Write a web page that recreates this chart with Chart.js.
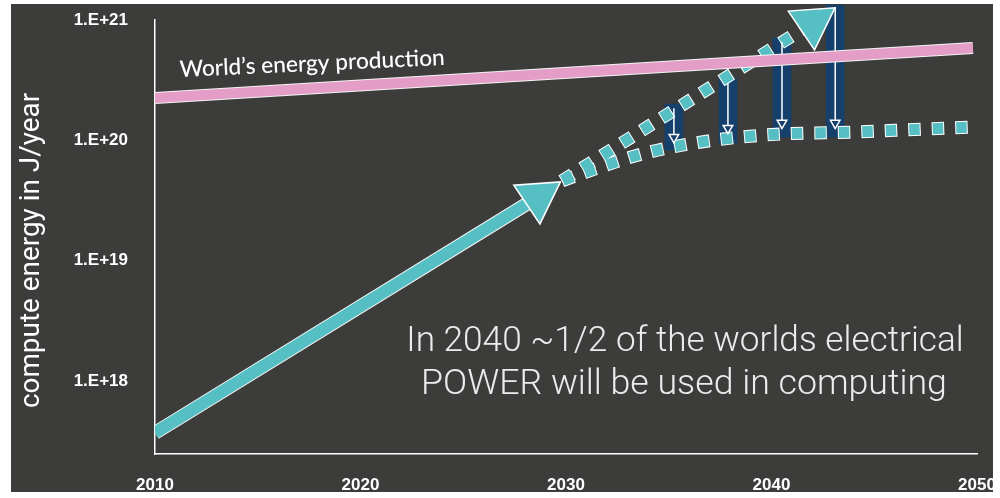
<!DOCTYPE html>
<html>
<head>
<meta charset="utf-8">
<script src="https://cdn.jsdelivr.net/npm/chart.js@4.4.0/dist/chart.umd.min.js"></script>
<style>
    html, body { margin: 0; padding: 0; background: #ffffff; }
    #wrap { width: 1000px; height: 498px; }
</style>
</head>
<body>
<div id="wrap"><canvas id="energyChart" width="1000" height="498"></canvas></div>
<script>
// axis ticks
const yearTicks = [2010, 2020, 2030, 2040, 2050];
const energyTicks = [1e18, 1e19, 1e20, 1e21];
const energyTickLabels = ['1.E+18', '1.E+19', '1.E+20', '1.E+21'];

// world energy production (J/year)
const worldYears = [2010, 2049.8];
const worldEnergy = [2.25e20, 5.85e20];

// compute energy trend so far
const trendYears = [2010, 2028.64];
const trendEnergy = [3.7e17, 3.38e19];

// continued exponential growth
const expYears = [2029.8, 2042.0];
const expEnergy = [4.6e19, 9.45e20];

// flattening growth
const flatYears = [2029.8, 2031.56, 2033.7, 2035.94, 2038.18, 2040.56, 2043.97, 2047.37, 2049.95];
const flatEnergy = [4.6e19, 5.9e19, 7.7e19, 9.3e19, 1.05e20, 1.13e20, 1.17e20, 1.24e20, 1.29e20];

// gap between the two scenarios
const gapYears = [2035.25, 2037.88, 2040.51, 2043.1];
const gapHigh = [2.0e20, 3.24e20, 7.08e20, 1.33e21];
const gapLow = [8.3e19, 9.5e19, 1.06e20, 1.06e20];
const arrowFrom = [1.85e20, 2.99e20, 6.56e20, 1.28e21];
const arrowTo = [1.06e20, 1.26e20, 1.39e20, 1.39e20];

const slideBg = '#3c3c3b';
const cyan = '#56bfc3';
const pink = '#e39dc6';
const navy = '#15406b';
const tickFont = "'Liberation Sans', Arial, sans-serif";

function pts(xs, ys) {
    return xs.map((x, i) => ({ x: x, y: ys[i] }));
}

// arrows as short segments separated by gaps
const arrowData = [];
gapYears.forEach((x, i) => {
    arrowData.push({ x: x, y: arrowFrom[i] });
    arrowData.push({ x: x, y: arrowTo[i] });
    arrowData.push({ x: x, y: null });
});

function fitFont(ctx, text, weight, family, width) {
    ctx.font = weight + ' 100px ' + family;
    const size = 100 * width / ctx.measureText(text).width;
    return weight + ' ' + size.toFixed(1) + 'px ' + family;
}

const slideDecor = {
    id: 'slideDecor',
    beforeDraw(chart) {
        const ctx = chart.ctx;
        ctx.save();
        ctx.fillStyle = '#ffffff';
        ctx.fillRect(0, 0, chart.width, chart.height);
        ctx.fillStyle = slideBg;
        ctx.fillRect(11, 4, 982, 488);
        ctx.restore();
    },
    afterDraw(chart) {
        const ctx = chart.ctx;
        ctx.save();
        ctx.fillStyle = '#ffffff';
        ctx.textAlign = 'center';
        ctx.textBaseline = 'alphabetic';

        // label on the production line
        const prodText = 'World\u2019s energy production';
        ctx.save();
        ctx.translate(312.5, 71);
        ctx.rotate(-2.6 * Math.PI / 180);
        ctx.font = fitFont(ctx, prodText, '500', 'Lato, sans-serif', 265);
        ctx.fillText(prodText, 0, 0);
        ctx.restore();

        // y axis title
        const yTitle = 'compute energy in J/year';
        ctx.save();
        ctx.translate(38.5, 250.5);
        ctx.rotate(-Math.PI / 2);
        ctx.font = fitFont(ctx, yTitle, '400', 'Roboto, sans-serif', 315);
        ctx.fillText(yTitle, 0, 0);
        ctx.restore();

        // note
        ctx.fillStyle = '#ececec';
        const line1 = 'In 2040 ~1/2 of the worlds electrical';
        const line2 = 'POWER will be used in computing';
        ctx.font = fitFont(ctx, line1, '300', 'Roboto, sans-serif', 557);
        ctx.fillText(line1, 685, 351);
        ctx.font = fitFont(ctx, line2, '300', 'Roboto, sans-serif', 526);
        ctx.fillText(line2, 684, 394);

        // slide edge
        ctx.fillStyle = '#ffffff';
        ctx.fillRect(0, 0, 11, chart.height);
        ctx.fillRect(0, 0, chart.width, 4);
        ctx.fillRect(993, 0, chart.width - 993, chart.height);
        ctx.fillRect(0, 492, chart.width, chart.height - 492);
        ctx.restore();
    }
};

const ctx = document.getElementById('energyChart');

new Chart(ctx, {
    type: 'line',
    data: {
        datasets: [
            {
                type: 'bar',
                label: 'Gap',
                data: gapYears.map((x, i) => ({ x: x, y: [gapLow[i], gapHigh[i]] })),
                backgroundColor: navy,
                barThickness: 18,
                clip: false,
                order: 12
            },
            {
                label: 'Exponential outline',
                data: pts(expYears, expEnergy),
                borderColor: '#ffffff',
                borderWidth: 13,
                borderDash: [12.5, 11],
                borderCapStyle: 'butt',
                pointRadius: 0,
                order: 11
            },
            {
                label: 'Flattening outline',
                data: pts(flatYears, flatEnergy),
                borderColor: '#ffffff',
                borderWidth: 13,
                borderDash: [12.5, 11],
                borderCapStyle: 'butt',
                cubicInterpolationMode: 'monotone',
                pointRadius: 0,
                order: 11
            },
            {
                label: 'Exponential growth',
                data: pts(expYears, expEnergy),
                borderColor: cyan,
                borderWidth: 11,
                borderDash: [10.5, 13],
                borderDashOffset: -1,
                borderCapStyle: 'butt',
                pointRadius: 0,
                order: 10
            },
            {
                label: 'Flattening growth',
                data: pts(flatYears, flatEnergy),
                borderColor: cyan,
                borderWidth: 11,
                borderDash: [10.5, 13],
                borderDashOffset: -1,
                borderCapStyle: 'butt',
                cubicInterpolationMode: 'monotone',
                pointRadius: 0,
                order: 10
            },
            {
                label: 'Savings',
                data: arrowData,
                borderColor: '#ffffff',
                borderWidth: 1.5,
                spanGaps: false,
                pointStyle: 'triangle',
                pointRotation: 180,
                pointRadius: c => (c.dataIndex % 3 === 1 ? 5.5 : 0),
                pointBackgroundColor: navy,
                pointBorderColor: '#ffffff',
                pointBorderWidth: 1.5,
                clip: false,
                order: 9
            },
            {
                label: 'World production outline',
                data: pts(worldYears, worldEnergy),
                borderColor: '#f4f4f4',
                borderWidth: 12,
                borderCapStyle: 'butt',
                pointRadius: 0,
                order: 8
            },
            {
                label: "World's energy production",
                data: pts(worldYears, worldEnergy),
                borderColor: pink,
                borderWidth: 10,
                borderCapStyle: 'butt',
                pointRadius: 0,
                order: 7
            },
            {
                label: 'Trend outline',
                data: pts(trendYears, trendEnergy),
                borderColor: '#f4f4f4',
                borderWidth: 14,
                borderCapStyle: 'butt',
                pointRadius: 0,
                order: 6
            },
            {
                label: 'Compute energy',
                data: pts(trendYears, trendEnergy),
                borderColor: cyan,
                borderWidth: 12,
                borderCapStyle: 'butt',
                pointRadius: 0,
                order: 5
            },
            {
                label: 'Arrow heads',
                data: [
                    { x: trendYears[1], y: trendEnergy[1] },
                    { x: expYears[1], y: expEnergy[1] }
                ],
                showLine: false,
                pointStyle: 'triangle',
                pointRadius: 27,
                pointRotation: [56, 176],
                pointBackgroundColor: cyan,
                pointBorderColor: '#ffffff',
                pointBorderWidth: 1.5,
                clip: false,
                order: 1
            }
        ]
    },
    options: {
        responsive: false,
        animation: false,
        layout: {
            autoPadding: false,
            padding: { left: 0, top: 20, right: 23, bottom: 0 }
        },
        scales: {
            x: {
                type: 'linear',
                min: 2010,
                max: 2050,
                offset: false,
                grid: { display: false, offset: false, drawTicks: false },
                border: { display: true, color: '#ffffff', width: 1.5 },
                afterBuildTicks: scale => {
                    scale.ticks = yearTicks.map(v => ({ value: v }));
                },
                afterFit: scale => {
                    scale.height = 44;
                    scale.paddingLeft = 0;
                    scale.paddingRight = 0;
                },
                ticks: {
                    color: '#ffffff',
                    padding: 21,
                    maxRotation: 0,
                    autoSkip: false,
                    font: { family: tickFont, size: 17, weight: 'bold' },
                    callback: v => String(v)
                }
            },
            y: {
                type: 'logarithmic',
                min: 2.47e17,
                max: 1e21,
                grid: { display: false, drawTicks: false },
                border: { display: true, color: '#ffffff', width: 1.5 },
                afterBuildTicks: scale => {
                    scale.ticks = energyTicks.map(v => ({ value: v }));
                },
                afterFit: scale => {
                    scale.width = 155;
                    scale.paddingTop = 0;
                    scale.paddingBottom = 0;
                },
                ticks: {
                    color: '#ffffff',
                    padding: 27,
                    autoSkip: false,
                    font: { family: tickFont, size: 17, weight: 'bold' },
                    callback: v => energyTickLabels[energyTicks.indexOf(v)]
                }
            }
        },
        plugins: {
            legend: { display: false },
            tooltip: { enabled: false }
        }
    },
    plugins: [slideDecor]
});
</script>
</body>
</html>
